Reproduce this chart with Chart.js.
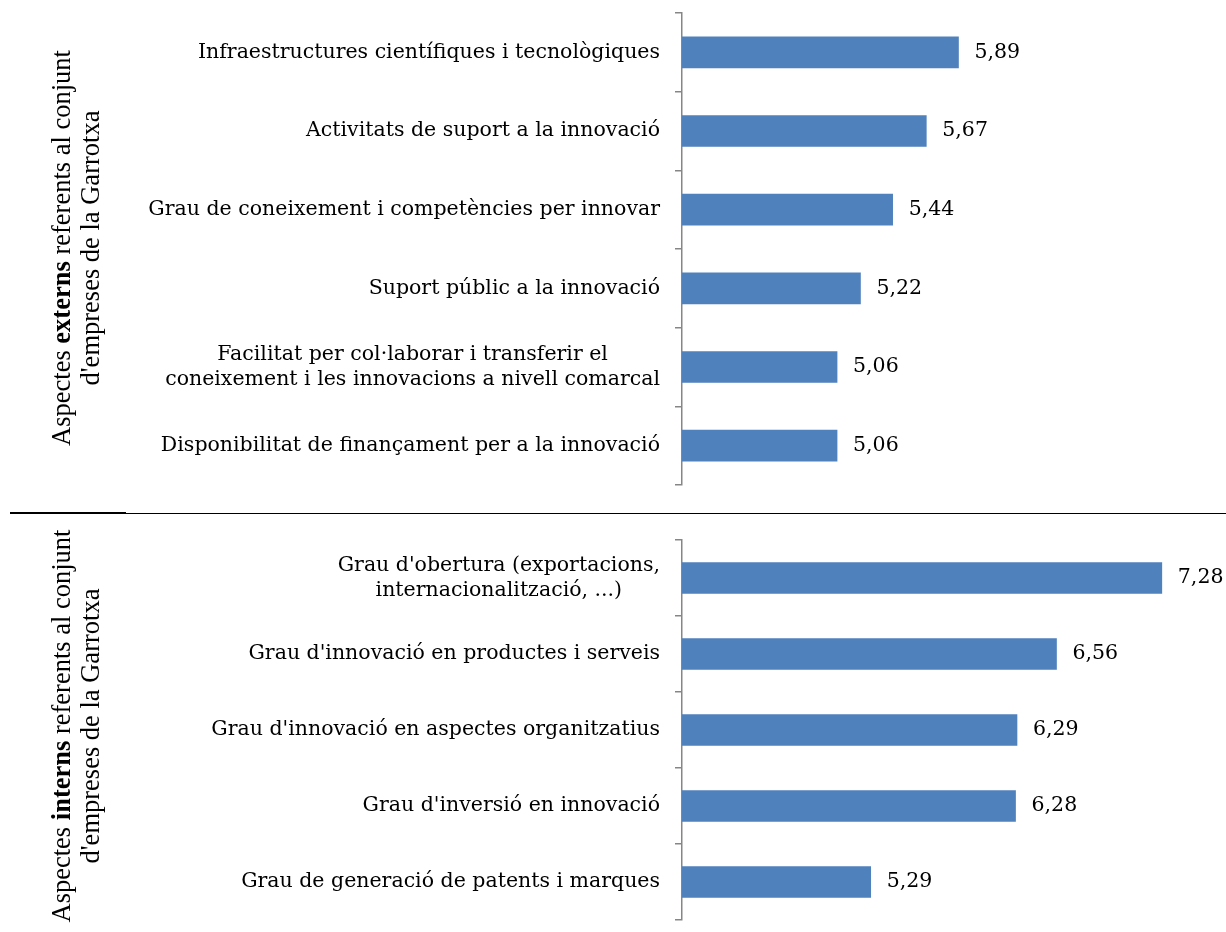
<!DOCTYPE html>
<html>
<head>
<meta charset="utf-8">
<script src="https://cdn.jsdelivr.net/npm/chart.js@4"></script>
<style>
  html, body { margin: 0; padding: 0; background: #fff; }
  #wrap { position: relative; width: 1226px; height: 932px; overflow: hidden; }
  .cv { position: absolute; left: 0; }
  .ttl { position: absolute; width: 520px; height: 60px; line-height: 29px; text-align: center;
         font-family: "Liberation Serif", serif; font-size: 26.5px; color: #000;
         transform: rotate(-90deg); transform-origin: 50% 50%; white-space: nowrap; }
  .sep { position: absolute; background: #000; }
</style>
</head>
<body>
<div id="wrap">
  <div class="cv" style="top:0;width:1226px;height:500px;"><canvas id="c1"></canvas></div>
  <div class="cv" style="top:520px;width:1226px;height:412px;"><canvas id="c2"></canvas></div>
  <div class="ttl" style="left:-183px;top:218px;">Aspectes <b>externs</b> referents al conjunt<br>d'empreses de la Garrotxa</div>
  <div class="ttl" style="left:-183px;top:696px;">Aspectes <b>interns</b> referents al conjunt<br>d'empreses de la Garrotxa</div>
  <div class="sep" style="left:10px;top:512px;width:116px;height:2px;"></div>
  <div class="sep" style="left:126px;top:513px;width:1100px;height:1px;"></div>
</div>
<script>
const extLabels = [
  'Infraestructures científiques i tecnològiques',
  'Activitats de suport a la innovació',
  'Grau de coneixement i competències per innovar',
  'Suport públic a la innovació',
  ['Facilitat per col·laborar i transferir el', 'coneixement i les innovacions a nivell comarcal'],
  'Disponibilitat de finançament per a la innovació'
];
const extValues = [5.89, 5.67, 5.44, 5.22, 5.06, 5.06];

const intLabels = [
  ["Grau d'obertura (exportacions,", 'internacionalització, ...)'],
  "Grau d'innovació en productes i serveis",
  "Grau d'innovació en aspectes organitzatius",
  "Grau d'inversió en innovació",
  'Grau de generació de patents i marques'
];
const intValues = [7.28, 6.56, 6.29, 6.28, 5.29];

const axisMin = 4;
const axisMax = 7.5;

const FONT = '"DejaVu Serif", serif';
const LABEL_SIZE = 20.5;
const AXIS_X = 682;

const labelPlugin = {
  id: 'labelPlugin',
  afterDraw(chart) {
    const ctx = chart.ctx;
    const y = chart.scales.y;
    const labels = chart.data.labels;
    ctx.save();
    ctx.font = LABEL_SIZE + 'px ' + FONT;
    ctx.fillStyle = '#000';
    ctx.textBaseline = 'middle';
    ctx.textAlign = 'center';
    const right = y.right - 22;
    const lh = 25;
    labels.forEach((lab, i) => {
      const lines = Array.isArray(lab) ? lab : [lab];
      const py = y.getPixelForTick(i);
      const maxW = Math.max(...lines.map(l => ctx.measureText(l).width));
      const cx = right - maxW / 2;
      const start = py - (lines.length - 1) * lh / 2;
      lines.forEach((l, k) => ctx.fillText(l, cx, start + k * lh));
    });
    const meta = chart.getDatasetMeta(0);
    const vals = chart.data.datasets[0].data;
    ctx.textAlign = 'left';
    meta.data.forEach((bar, i) => {
      ctx.fillText(vals[i].toFixed(2).replace('.', ','), bar.x + 16, bar.y);
    });
    ctx.restore();
  }
};

function makeChart(id, labels, values, pad) {
  return new Chart(document.getElementById(id), {
    type: 'bar',
    data: {
      labels: labels,
      datasets: [{
        data: values,
        backgroundColor: '#4F81BD',
        barThickness: 31,
        borderWidth: 0
      }]
    },
    options: {
      indexAxis: 'y',
      responsive: true,
      maintainAspectRatio: false,
      animation: false,
      layout: { padding: pad },
      plugins: { legend: { display: false }, tooltip: { enabled: false } },
      scales: {
        x: { display: false, min: axisMin, max: axisMax },
        y: {
          offset: true,
          afterFit(scale) { scale.width = AXIS_X; },
          grid: {
            offset: true,
            drawOnChartArea: false,
            drawTicks: true,
            tickLength: 7,
            color: '#868686',
            lineWidth: 1.5
          },
          border: { display: true, color: '#868686', width: 1.5 },
          ticks: { display: false }
        }
      }
    },
    plugins: [labelPlugin]
  });
}

makeChart('c1', extLabels, extValues, { top: 13, bottom: 15, left: 0, right: 32 });
makeChart('c2', intLabels, intValues, { top: 20, bottom: 12, left: 0, right: 32 });
</script>
</body>
</html>
